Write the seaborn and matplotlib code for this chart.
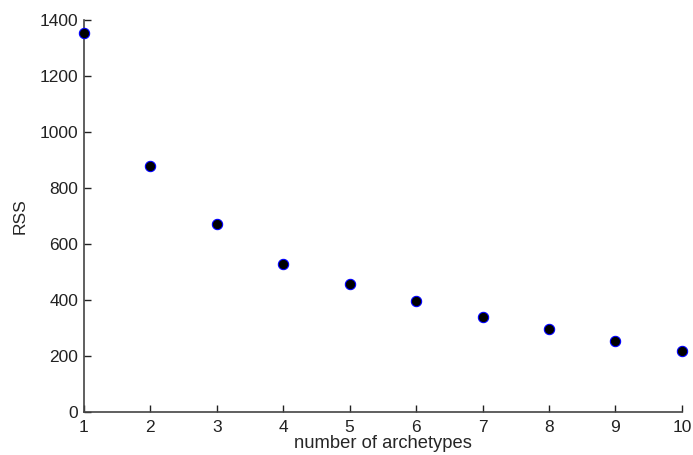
import matplotlib
matplotlib.use("Agg")
import matplotlib.pyplot as plt
import seaborn as sns
import pandas as pd

archetypes = [1, 2, 3, 4, 5, 6, 7, 8, 9, 10]
rss = [1355, 877, 673, 528, 456, 398, 340, 297, 255, 219]

df = pd.DataFrame({"archetypes": archetypes, "rss": rss})

sns.set_style("ticks")
plt.rcParams["font.family"] = ["Liberation Sans", "DejaVu Sans"]

fig = plt.figure(figsize=(6.93, 4.55), dpi=100)
ax = fig.add_axes([0.121, 0.0945, 0.863, 0.8615])
sns.scatterplot(data=df, x="archetypes", y="rss", ax=ax, color="black",
                edgecolor="blue", linewidth=0.8, s=55, clip_on=False, zorder=3)

ax.set_xlim(1, 10)
ax.set_ylim(0, 1400)
ax.set_xticks(range(1, 11))
ax.set_yticks(range(0, 1401, 200))
ax.tick_params(direction="in", length=5, width=1, labelsize=12.5, colors="#222222")
ax.tick_params(axis="x", pad=6)
ax.tick_params(axis="y", pad=4)
for side in ["top", "right"]:
    ax.spines[side].set_visible(False)
for side in ["left", "bottom"]:
    ax.spines[side].set_color("#444444")
    ax.spines[side].set_linewidth(1.2)
ax.set_xlabel("number of archetypes", fontsize=13.2, labelpad=0)
ax.set_ylabel("RSS", fontsize=12.5, labelpad=9)

fig.savefig("out.png", dpi=100)
